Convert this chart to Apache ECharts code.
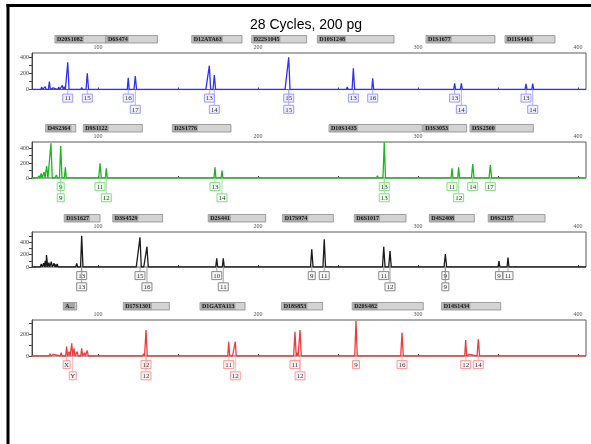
<!DOCTYPE html>
<html><head><meta charset="utf-8">
<script src="https://cdn.jsdelivr.net/npm/echarts@6/dist/echarts.min.js"></script>
<style>html,body{margin:0;padding:0;background:#fff}#c{width:591px;height:444px}</style>
</head><body><div id="c"></div>
<script>
// ---------- data ----------
const titleText = "28 Cycles, 200 pg";
const xTickLabels = [100, 200, 300, 400];
const xTicks = [100, 150, 200, 250, 300, 350, 400];

// Panel 1 (blue)
const p1Loci = ["D20S1082","D6S474","D12ATA63","D22S1045","D10S1248","D1S1677","D11S4463"];
const p1LocusStart = [73.1,105.0,158.6,196.1,237.1,305.0,354.4];
const p1LocusEnd = [105.0,137.1,190.0,230.4,285.0,348.1,385.6];
const p1PeakBp = [64.8,67,69.6,72,75.5,77.7,79,81.1,89.8,91,93.3,100,118.9,123.3,127,133,168,169.6,172.7,217.5,219.2,240,255.8,259.6,268,271.7,278.3,300,322.9,327.1,335,345,362,367.5,371.7,380,402];
const p1PeakH = [30,35,96,20,30,50,35,335,25,15,200,8,145,166,10,8,15,293,178,15,396,8,30,261,20,138,15,8,76,76,8,8,8,68,72,8,8];
const p1Row1Bp = [81.1,93.3,118.9,169.6,219.2,259.6,271.7,322.9,367.5];
const p1Row1Txt = ["11","15","16","13","15","13","16","13","13"];
const p1Row2Bp = [123.3,172.7,219.2,327.1,371.7];
const p1Row2Txt = ["17","14","15","14","14"];

// Panel 2 (green)
const p2Loci = ["D4S2364","D9S1122","D2S1776","D10S1435","D3S3053","D5S2500"];
const p2LocusStart = [67.3,90.8,146.4,244.4,303.3,332.5];
const p2LocusEnd = [86.1,127.7,183.1,302.7,330.4,372.1];
const p2PeakBp = [61,63,64.5,66.3,67.9,70.6,72.5,74,76.7,79.6,85,96,101.25,105.2,112,118,140,171,173.1,177.5,190,215,274.6,276,278.9,300,321.25,325.4,334.2,345.2,360,400];
const p2PeakH = [20,30,60,80,160,462,20,40,427,143,10,10,196,129,8,8,6,15,143,98,8,8,30,15,476,8,129,143,187,173,6,8];
const p2Row1Bp = [76.7,101.25,173.1,278.9,321.25,334.2,345.2];
const p2Row1Txt = ["9","11","13","13","11","14","17"];
const p2Row2Bp = [76.7,105.2,177.5,278.9,325.4];
const p2Row2Txt = ["9","12","14","13","12"];

// Panel 3 (black)
const p3Loci = ["D1S1627","D3S4529","D2S441","D17S974","D6S1017","D4S2408","D9S2157"];
const p3LocusStart = [78.9,109.2,168.9,215.4,260.2,307.1,343.9];
const p3LocusEnd = [101.25,140.4,204.8,247.1,292.5,335.2,379.4];
const p3PeakBp = [60,62.5,64.5,66,67,67.8,69.3,70.8,72.5,73.5,74.5,80,86.7,88.5,89.8,91.5,124.5,126.25,128,130.6,172.5,174.2,178.3,196,230,233.6,238,241.4,262,276,278.6,282.5,306,313,317.1,321,325,327,329,348,350.6,356.25,360,395];
const p3PeakH = [15,30,50,60,100,192,70,85,60,40,50,15,59,30,501,20,20,475,15,325,20,139,139,10,25,283,20,443,12,30,325,256,15,10,208,15,15,25,20,20,96,149,20,10];
const p3Row1Bp = [89.8,126.25,174.2,233.6,241.4,278.6,317.1,350.6,356.25];
const p3Row1Txt = ["13","15","10","9","11","11","9","9","11"];
const p3Row2Bp = [89.8,130.6,178.3,282.5,317.1];
const p3Row2Txt = ["13","16","11","12","9"];

// Panel 4 (red)
const p4Loci = ["A...","D17S1301","D1GATA113","D18S853","D20S482","D14S1434"];
const p4LocusStart = [78.3,115.8,163.75,214.8,258.9,314.8];
const p4LocusEnd = [86.7,144.6,191.9,240.4,303.3,351.7];
const p4PeakBp = [70,72,77,80.4,82,83.6,85,87,89.8,91.5,93.3,100,118,126,128.5,130,155,179.5,181.7,183.5,185.8,205,221,223.1,224.5,226.25,240,250,259,261.25,275,288,290,315,327,329.8,332,337.7,360,390,400];
const p4PeakH = [20,15,30,85,40,115,70,40,70,30,50,8,10,15,20,236,8,15,130,15,130,8,15,221,30,236,8,8,15,321,8,12,212,8,10,145,15,152,8,8,10];
const p4Row1Bp = [80.4,130,181.7,223.1,261.25,290,329.8,337.7];
const p4Row1Txt = ["X","12","11","11","9","16","12","14"];
const p4Row2Bp = [84.2,130,185.8,226.25];
const p4Row2Txt = ["Y","12","12","12"];

// ---------- layout / style ----------
const X_MIN = 58.75, X_MAX = 405;
const panels = [
  {top:53, height:36.5, ymax:449, yLabels:[0,200,400], yTicks:[0,100,200,300,400], color:'#2f2ff5', light:'#9b9bff', fill:'#f1f1ff',
   loci:p1Loci, ls:p1LocusStart, le:p1LocusEnd, bp:p1PeakBp, h:p1PeakH, r1b:p1Row1Bp, r1t:p1Row1Txt, r2b:p1Row2Bp, r2t:p1Row2Txt},
  {top:142, height:36, ymax:480, yLabels:[0,200,400], yTicks:[0,100,200,300,400], color:'#1fb51f', light:'#88dd88', fill:'#f0fff0',
   loci:p2Loci, ls:p2LocusStart, le:p2LocusEnd, bp:p2PeakBp, h:p2PeakH, r1b:p2Row1Bp, r1t:p2Row1Txt, r2b:p2Row2Bp, r2t:p2Row2Txt},
  {top:232, height:35, ymax:560, yLabels:[0,200,400], yTicks:[0,100,200,300,400,500], color:'#1a1a1a', light:'#8a8a8a', fill:'#f6f6f6',
   loci:p3Loci, ls:p3LocusStart, le:p3LocusEnd, bp:p3PeakBp, h:p3PeakH, r1b:p3Row1Bp, r1t:p3Row1Txt, r2b:p3Row2Bp, r2t:p3Row2Txt},
  {top:320, height:36, ymax:327, yLabels:[0,200], yTicks:[0,100,200,300], color:'#f23a3a', light:'#ff9a9a', fill:'#fff2f2',
   loci:p4Loci, ls:p4LocusStart, le:p4LocusEnd, bp:p4PeakBp, h:p4PeakH, r1b:p4Row1Bp, r1t:p4Row1Txt, r2b:p4Row2Bp, r2t:p4Row2Txt}
];

function peakLine(bp, h) {
  const idx = bp.map((b, i) => i).sort((a, b) => bp[a] - bp[b]);
  const pts = [[X_MIN, 0]];
  idx.forEach(i => {
    const w = h[i] > 150 ? 0.8 : 0.6;
    pts.push([bp[i] - w, 0], [bp[i], h[i]], [bp[i] + w, 0]);
  });
  pts.push([X_MAX, 0]);
  return pts;
}

function locusRender(names) {
  return function (params, api) {
    const s = api.coord([api.value(0), 0]);
    const e = api.coord([api.value(1), 0]);
    const top = params.coordSys.y;
    return {type:'group', children:[
      {type:'rect', shape:{x:s[0], y:top-17.5, width:e[0]-s[0], height:7.5},
       style:{fill:'#d3d3d3', stroke:'#8c8c8c', lineWidth:0.8}},
      {type:'text', x:s[0]+1, y:top-13.6,
       style:{text:names[params.dataIndex], font:'bold 6px "Liberation Serif"', fill:'#151515',
              verticalAlign:'middle', align:'left', backgroundColor:'#a6a6a6', padding:[1,1,0,1]}}
    ]};
  };
}

function alleleRender(texts, offset, light, fill) {
  return function (params, api) {
    const p = api.coord([api.value(0), 0]);
    const t = texts[params.dataIndex];
    const w = t.length > 1 ? 10 : 7, hh = 8;
    const cy = p[1] + offset;
    return {type:'group', children:[
      {type:'line', shape:{x1:p[0], y1:p[1], x2:p[0], y2:cy-hh/2}, style:{stroke:light, lineWidth:0.8}},
      {type:'rect', shape:{x:p[0]-w/2, y:cy-hh/2, width:w, height:hh}, style:{fill:fill, stroke:light, lineWidth:1}},
      {type:'text', x:p[0], y:cy+0.5, style:{text:t, font:'7px "Liberation Serif"', fill:'#333', align:'center', verticalAlign:'middle'}}
    ]};
  };
}

const grid = [], xAxis = [], yAxis = [], series = [];
panels.forEach((P, k) => {
  grid.push({left:32, width:554, top:P.top, height:P.height, show:true, borderColor:'#5a5a5a', borderWidth:1, backgroundColor:'transparent'});
  xAxis.push({type:'value', gridIndex:k, min:X_MIN, max:X_MAX, position:'top',
    axisLine:{show:false}, splitLine:{show:false},
    axisTick:{show:true, customValues:xTicks, length:2, lineStyle:{color:'#444'}},
    axisLabel:{show:true, customValues:xTickLabels, fontSize:6, color:'#555', margin:3, fontFamily:'Liberation Serif'}});
  yAxis.push({type:'value', gridIndex:k, min:0, max:P.ymax,
    axisLine:{show:true, lineStyle:{color:'#444'}}, splitLine:{show:false},
    axisTick:{show:true, customValues:P.yTicks, length:3, lineStyle:{color:'#444'}},
    axisLabel:{show:true, customValues:P.yLabels, fontSize:6, color:'#444', margin:3, fontFamily:'Liberation Serif'}});
  series.push({type:'line', xAxisIndex:k, yAxisIndex:k, data:peakLine(P.bp, P.h), showSymbol:false, silent:true,
    lineStyle:{color:P.color, width:1.3}, animation:false, z:3});
  series.push({type:'custom', xAxisIndex:k, yAxisIndex:k, clip:false, silent:true, animation:false,
    data:P.ls.map((s, i) => [s, P.le[i]]), renderItem:locusRender(P.loci), z:4});
  series.push({type:'custom', xAxisIndex:k, yAxisIndex:k, clip:false, silent:true, animation:false,
    data:P.r1b.map(b => [b]), renderItem:alleleRender(P.r1t, 8.6, P.light, P.fill), z:4});
  series.push({type:'custom', xAxisIndex:k, yAxisIndex:k, clip:false, silent:true, animation:false,
    data:P.r2b.map(b => [b]), renderItem:alleleRender(P.r2t, 19.8, P.light, P.fill), z:4});
});

const chart = echarts.init(document.getElementById('c'), null, {renderer:'canvas'});
chart.setOption({
  animation:false,
  backgroundColor:'#fff',
  grid, xAxis, yAxis, series,
  graphic:[
    {type:'line', shape:{x1:6.5, y1:5.5, x2:591, y2:5.5}, style:{stroke:'#000', lineWidth:3}},
    {type:'line', shape:{x1:8, y1:4, x2:8, y2:444}, style:{stroke:'#000', lineWidth:3}},
    {type:'text', x:306, y:25.5, style:{text:titleText, font:'14px "Liberation Sans"', fill:'#000', align:'center', verticalAlign:'middle'}}
  ]
});
</script></body></html>
